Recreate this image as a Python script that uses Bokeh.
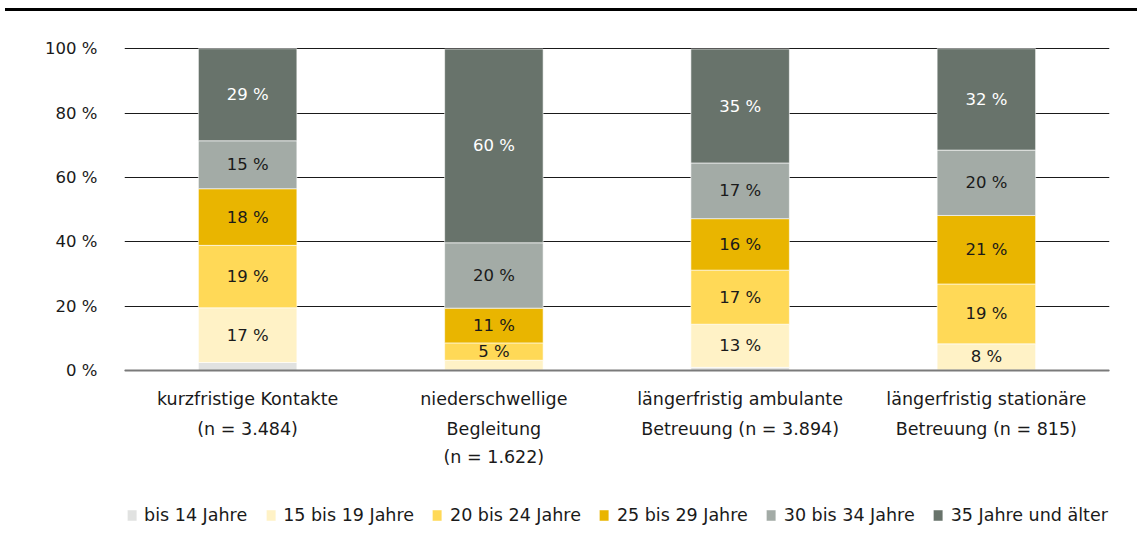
from bokeh.plotting import figure
from bokeh.models import (ColumnDataSource, FactorRange, Range1d, FixedTicker, LabelSet,
                          Span, Div, Legend)
from bokeh.layouts import column
from bokeh.core.properties import value
from bokeh.embed import file_html
from bokeh.resources import INLINE

categories = ["kurzfristige Kontakte\n(n = 3.484)",
              "niederschwellige\nBegleitung\n(n = 1.622)",
              "längerfristig ambulante\nBetreuung (n = 3.894)",
              "längerfristig stationäre\nBetreuung (n = 815)"]
series_names = ["bis 14 Jahre", "15 bis 19 Jahre", "20 bis 24 Jahre",
                "25 bis 29 Jahre", "30 bis 34 Jahre", "35 Jahre und älter"]
bis_14 = [2.5, 0.2, 1.0, 0.2]
j15_19 = [17.0, 3.0, 13.4, 8.1]
j20_24 = [19.4, 5.4, 16.8, 18.6]
j25_29 = [17.6, 10.8, 16.0, 21.3]
j30_34 = [14.9, 20.3, 17.3, 20.3]
j35_plus = [28.6, 60.2, 35.4, 31.5]
y_ticks = [0, 20, 40, 60, 80, 100]
y_tick_labels = ["0 %", "20 %", "40 %", "60 %", "80 %", "100 %"]

colors = ["#e1e2e1", "#fff2c6", "#ffd957", "#e9b500", "#a3aba6", "#68736b"]
label_colors = ["#1a1a1a", "#1a1a1a", "#1a1a1a", "#1a1a1a", "#1a1a1a", "#ffffff"]
FONT = "DejaVu Sans"
FS = "16.5px"
FS_TEXT = "17.5px"

series = [bis_14, j15_19, j20_24, j25_29, j30_34, j35_plus]
keys = ["s%d" % i for i in range(len(series))]
data = {"cat": categories}
for k, s in zip(keys, series):
    data[k] = s
src = ColumnDataSource(data)

p = figure(x_range=FactorRange(factors=categories, range_padding=0, factor_padding=0),
           y_range=Range1d(-50, 101), frame_width=985, frame_height=486,
           output_backend="svg", toolbar_location=None,
           min_border_left=124, min_border_right=27, min_border_top=34, min_border_bottom=6)
p.outline_line_color = None
p.background_fill_color = None
p.border_fill_color = None

renderers = p.vbar_stack(keys, x="cat", width=0.4, color=colors, source=src,
                         line_color="#ffffff", line_width=1, line_alpha=0.6)

# value labels
lx, ly, lt, lc = [], [], [], []
for ci, cat in enumerate(categories):
    base = 0.0
    for si, s in enumerate(series):
        v = s[ci]
        if v >= 4.5:
            lx.append(cat)
            ly.append(base + v / 2)
            lt.append("%d %%" % round(v))
            lc.append(label_colors[si])
        base += v
p.add_layout(LabelSet(x="x", y="y", text="t", text_color="c",
                      source=ColumnDataSource(dict(x=lx, y=ly, t=lt, c=lc)),
                      text_align="center", text_baseline="middle",
                      text_font=value(FONT), text_font_size=value(FS)))

# category labels (multi-line)
cx, cy, ct = [], [], []
line_y = [-8.7, -18.0, -27.0]
for cat in categories:
    for li, line in enumerate(cat.split("\n")):
        cx.append(cat)
        cy.append(line_y[li])
        ct.append(line)
p.add_layout(LabelSet(x="x", y="y", text="t", source=ColumnDataSource(dict(x=cx, y=cy, t=ct)),
                      text_align="center", text_baseline="middle", text_color="#1a1a1a",
                      text_font=value(FONT), text_font_size=value(FS_TEXT)))

p.xaxis.visible = False
p.xgrid.grid_line_color = None
p.ygrid.ticker = FixedTicker(ticks=y_ticks)
p.ygrid.grid_line_color = "#1a1a1a"
p.ygrid.grid_line_width = 1
yax = p.yaxis[0]
yax.ticker = FixedTicker(ticks=y_ticks)
yax.major_label_overrides = {t: l for t, l in zip(y_ticks, y_tick_labels)}
yax.axis_line_color = None
yax.major_tick_line_color = None
yax.minor_tick_line_color = None
yax.major_label_standoff = 21
yax.major_label_text_font = FONT
yax.major_label_text_font_size = FS
yax.major_label_text_color = "#1a1a1a"

p.add_layout(Span(location=0, dimension="width", line_color="#7a7a7a", line_width=2, level="overlay"))

legend = Legend(items=[(n, [r]) for n, r in zip(series_names, renderers)],
                orientation="horizontal", location="bottom_center",
                padding=0, margin=6, spacing=17, label_standoff=7,
                glyph_width=12, glyph_height=14,
                label_text_font=FONT, label_text_font_size=FS_TEXT, label_text_color="#1a1a1a",
                border_line_color=None, background_fill_color=None)
p.center = [c for c in p.center if not isinstance(c, Legend)]
p.add_layout(legend, "center")

div = Div(width=1132, height=3, margin=(8, 0, 0, 5), styles={"background-color": "#000000"})
layout = column(div, p, spacing=0)

open("out.html", "w").write(file_html(layout, INLINE))
